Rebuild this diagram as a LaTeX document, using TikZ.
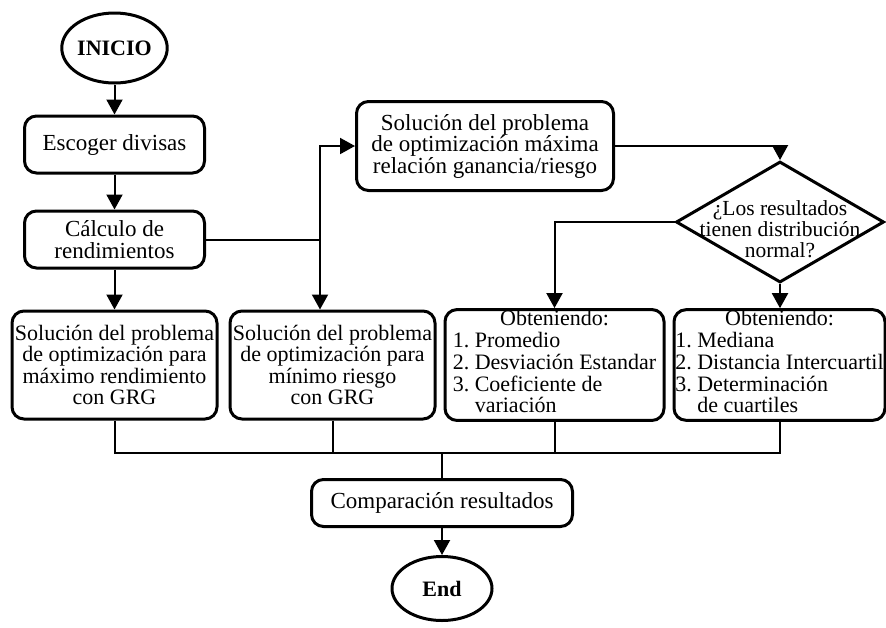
\documentclass[tikz,border=0pt]{standalone}
\usepackage{fontspec}
\setmainfont{Liberation Serif}
\usetikzlibrary{arrows.meta,positioning,shapes.geometric}

\begin{document}
\begin{tikzpicture}[
	x = 1pt, y = -1pt, % pixel grid, y grows downward
	> = {Triangle[length=15pt, width=16pt]}, % arrow head style
	line width = 2pt, % connector style
	font = \fontsize{22}{21.5}\selectfont,
	R/.style={rectangle, rounded corners=12pt, draw=black, line width=3pt, inner sep=2pt, align=center},  %process box
	E/.style={ellipse, draw=black, line width=3pt, inner sep=0pt, font=\fontsize{22}{21.5}\selectfont\bfseries},  %start / end
	D/.style={diamond, draw=black, line width=3pt, inner sep=0pt, minimum width=208pt, minimum height=121pt},  %decision
	L/.style={font=\fontsize{23}{21.5}\selectfont},  %larger text
	]

	\useasboundingbox (0,0) rectangle (886,627);

	% Nodes and their relative positions
	% left column
	\node[E, minimum width=101pt, minimum height=70pt] (I) at (114.5,48) {INICIO};
	\node[R, L, minimum width=180pt, minimum height=57pt] (A) [below = 30pt of I] {Escoger divisas};
	\node[R, L, minimum width=180pt, minimum height=57pt] (C) [below = 35pt of A] {Cálculo de\\rendimientos};
	\node[R, minimum width=205pt, minimum height=108pt] (G1) [below = 40pt of C] {Solución del problema\\de optimización para\\máximo rendimiento\\con GRG};
	\node[R, minimum width=205pt, minimum height=108pt] (G2) [right = 10pt of G1] {Solución del problema\\de optimización para\\mínimo riesgo\\con GRG};
	\node[R, inner sep=1pt, minimum width=219pt, minimum height=107pt] (P) [right = 7pt of G2] {\begin{tabular}{@{}l@{~}l@{}}\multicolumn{2}{c}{Obteniendo:}\\1. & Promedio\\2. & Desviación Estandar\\3. & Coeficiente de\\ & variación\end{tabular}};
	\node[R, inner sep=1pt, minimum width=211pt, minimum height=107pt] (Q) [right = 7pt of P] {\begin{tabular}{@{}l@{~}l@{}}\multicolumn{2}{c}{Obteniendo:}\\1. & Mediana\\2. & Distancia Intercuartil\\3. & Determinación\\ & de cuartiles\end{tabular}};
	% right branch
	\node[R, L, minimum width=257pt, minimum height=89pt] (S) at (485,146) {Solución del problema\\de optimización máxima\\relación ganancia/riesgo};
	\node[D, label={[align=center, yshift=-7pt, font=\fontsize{21.5}{21}\selectfont]center:{¿Los resultados\\tienen distribución\\normal?}}] (N) at (780,222) {};
	% bottom
	\node[R, L, minimum width=261pt, minimum height=47pt] (K) at (442,503) {Comparación resultados};
	\node[E, minimum width=100pt, minimum height=64pt] (F) [below = 27pt of K] {End};

	\coordinate (J) at ([xshift=114pt]C.east);
	\coordinate (M) at ([yshift=25pt]K.north);

	% Paths connecting nodes
	\path[->] (I) edge (A);
	\path[->] (A) edge (C);
	\path[->] (C) edge (G1);
	\draw (C.east) -- (J);
	\draw[->] (J) |- (S.west);
	\draw[->] (J) -- (J |- G2.north);
	\draw[->] (S.east) -| (N.north);
	\draw[->] (N.west) -| (P.north);
	\draw[->] (N.south) -- (N.south |- Q.north);

	\draw (G1.south) |- (M);
	\draw (G2.south) |- (M);
	\draw (P.south) |- (M);
	\draw (Q.south) |- (M);
	\draw (M) -- (K.north);
	\path[->] (K) edge (F);

\end{tikzpicture}
\end{document}
